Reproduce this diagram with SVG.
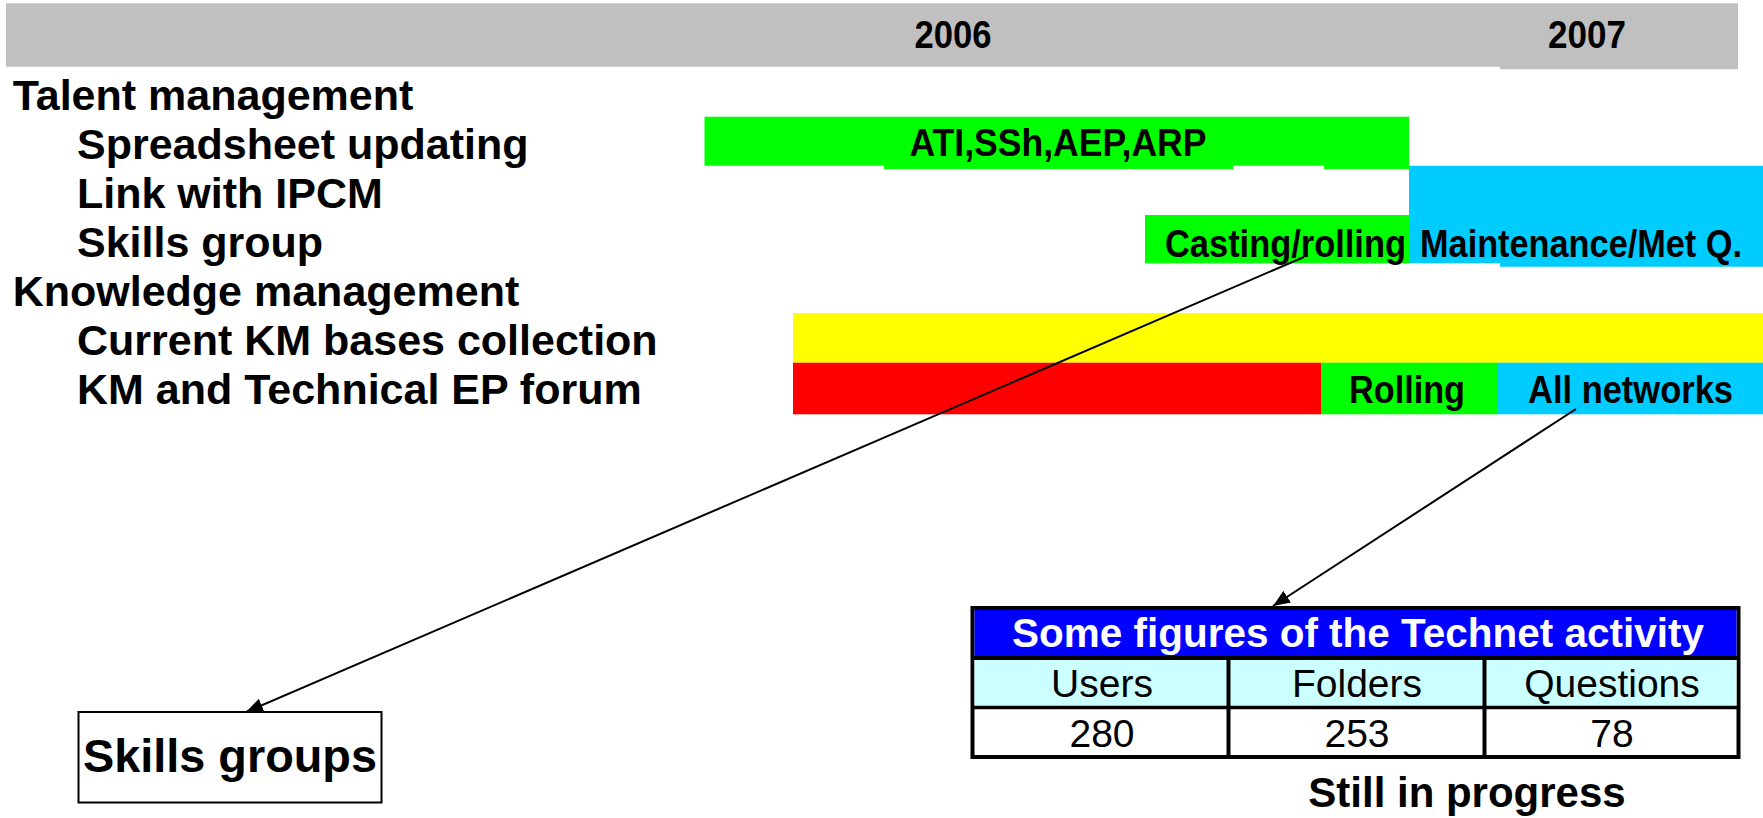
<svg xmlns="http://www.w3.org/2000/svg" width="1763" height="818" viewBox="0 0 1763 818">
<style>
.lbl{font-family:"Liberation Sans",Arial,sans-serif;font-weight:bold;font-size:43px;fill:#000}
.bar{font-family:"Liberation Sans",Arial,sans-serif;font-weight:bold;font-size:38px;fill:#000}
.cell{font-family:"Liberation Sans",Arial,sans-serif;font-size:39px;fill:#000;text-anchor:middle}
.conn{stroke:#000;stroke-width:2;fill:none}
</style>
<defs>
<marker id="ah" markerUnits="userSpaceOnUse" markerWidth="18" markerHeight="14" refX="17" refY="7" orient="auto">
<path d="M0,0 L17,7 L0,14 Z" fill="#000"/>
</marker>
</defs>
<rect width="1763" height="818" fill="#fff"/>
<g id="header">
<path d="M6,3.3 H1738 V69.3 H1500 V66.7 H6 Z" fill="#C0C0C0"/>
<text class="bar" x="953" y="47.7" text-anchor="middle" textLength="77" lengthAdjust="spacingAndGlyphs">2006</text>
<text class="bar" x="1587" y="47.7" text-anchor="middle" textLength="78" lengthAdjust="spacingAndGlyphs">2007</text>
</g>
<g id="labels">
<text class="lbl" x="12.7" y="110">Talent management</text>
<text class="lbl" x="77" y="159">Spreadsheet updating</text>
<text class="lbl" x="77" y="208">Link with IPCM</text>
<text class="lbl" x="77" y="257">Skills group</text>
<text class="lbl" x="12.7" y="306">Knowledge management</text>
<text class="lbl" x="77" y="355">Current KM bases collection</text>
<text class="lbl" x="77" y="404">KM and Technical EP forum</text>
</g>
<g id="bar-spreadsheet">
<path d="M704.5,116.7 H1409 V169 H1324 V165.7 H1233 V169 H884 V165.7 H704.5 Z" fill="#00FF00"/>
<text class="bar" x="1058" y="156" text-anchor="middle" textLength="297" lengthAdjust="spacingAndGlyphs">ATI,SSh,AEP,ARP</text>
</g>
<g id="bar-ipcm">
<path d="M1409,165.7 H1763 V266.7 H1500 V263.3 H1409 Z" fill="#00CCFF"/>
<text class="bar" x="1420" y="256.5" textLength="322" lengthAdjust="spacingAndGlyphs">Maintenance/Met Q.</text>
</g>
<g id="bar-casting">
<rect x="1145" y="215" width="264" height="48.3" fill="#00FF00"/>
<text class="bar" x="1285.5" y="256.5" text-anchor="middle" textLength="241" lengthAdjust="spacingAndGlyphs">Casting/rolling</text>
</g>
<g id="bar-kmbases">
<rect x="793" y="313" width="970" height="49.7" fill="#FFFF00"/>
</g>
<g id="bar-forum">
<rect x="793" y="362.7" width="528" height="51.6" fill="#FF0000"/>
<rect x="1321" y="362.7" width="176" height="51.6" fill="#00FF00"/>
<rect x="1497" y="362.7" width="266" height="51.6" fill="#00CCFF"/>
<text class="bar" x="1407" y="403.3" text-anchor="middle" textLength="116" lengthAdjust="spacingAndGlyphs">Rolling</text>
<text class="bar" x="1630.5" y="403.3" text-anchor="middle" textLength="205" lengthAdjust="spacingAndGlyphs">All networks</text>
</g>
<g id="skills-groups">
<rect x="78.5" y="712" width="303" height="90.5" fill="#fff" stroke="#000" stroke-width="2"/>
<text class="lbl" x="230" y="772" text-anchor="middle" style="font-size:46px" textLength="294" lengthAdjust="spacingAndGlyphs">Skills groups</text>
</g>
<g id="table">
<rect x="972.5" y="608" width="766" height="149" fill="#fff" stroke="#000" stroke-width="4"/>
<rect x="974.5" y="610" width="762" height="46" fill="#0000FF"/>
<rect x="974.5" y="660" width="762" height="46" fill="#CCFFFF"/>
<line x1="972.5" y1="658" x2="1738.5" y2="658" stroke="#000" stroke-width="4"/>
<line x1="972.5" y1="707.5" x2="1738.5" y2="707.5" stroke="#000" stroke-width="3.5"/>
<line x1="1228.5" y1="658" x2="1228.5" y2="757" stroke="#000" stroke-width="4"/>
<line x1="1484.5" y1="658" x2="1484.5" y2="757" stroke="#000" stroke-width="4"/>
<text x="1358" y="646.7" text-anchor="middle" style="font-family:'Liberation Sans',Arial,sans-serif;font-weight:bold;font-size:40px;fill:#fff" textLength="692" lengthAdjust="spacingAndGlyphs">Some figures of the Technet activity</text>
<text class="cell" x="1102" y="697">Users</text>
<text class="cell" x="1357" y="697">Folders</text>
<text class="cell" x="1612" y="697">Questions</text>
<text class="cell" x="1102" y="746.7">280</text>
<text class="cell" x="1357" y="746.7">253</text>
<text class="cell" x="1612" y="746.7">78</text>
</g>
<g id="note">
<text class="lbl" x="1467" y="807" text-anchor="middle" style="font-size:42px">Still in progress</text>
</g>
<g id="connectors">
<line class="conn" x1="1304" y1="257" x2="246" y2="712" marker-end="url(#ah)"/>
<line class="conn" x1="1576" y1="409" x2="1273" y2="606" marker-end="url(#ah)"/>
</g>
</svg>
